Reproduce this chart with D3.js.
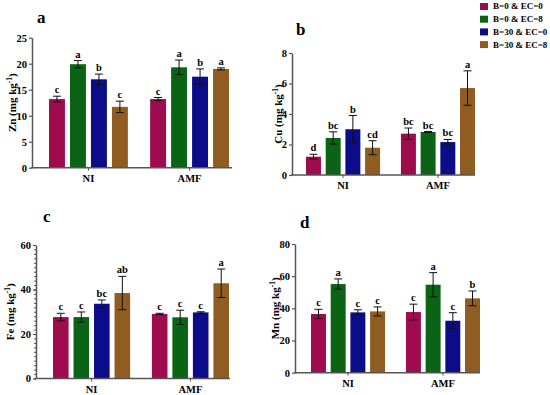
<!DOCTYPE html>
<html>
<head>
<meta charset="utf-8">
<script src="https://cdn.jsdelivr.net/npm/d3@7"></script>
<style>
  body { margin: 0; background: #fff; }
  text { font-family: "Liberation Serif", "Times New Roman", serif; font-weight: bold; }
</style>
</head>
<body>
<div id="chart-area"></div>
<script>
// data
const groups = ['NI', 'AMF'];
const treatments = ['B=0 & EC=0', 'B=0 & EC=8', 'B=30 & EC=0', 'B=30 & EC=8'];
const colors = ['#9f0c4e', '#0b6415', '#0c0c8a', '#8f5c21'];

// order: NI x4 treatments, then AMF x4
const znMean = [13.2, 19.9, 17.0, 11.7, 13.2, 19.3, 17.5, 19.0];
const znErr = [0.55, 0.7, 1.0, 1.1, 0.3, 1.4, 1.5, 0.2];
const znLetters = ['c', 'a', 'b', 'c', 'c', 'a', 'b', 'a'];

const cuMean = [1.2, 2.43, 3.0, 1.79, 2.71, 2.82, 2.16, 5.7];
const cuErr = [0.16, 0.4, 0.9, 0.46, 0.37, 0.03, 0.17, 1.13];
const cuLetters = ['d', 'bc', 'b', 'cd', 'bc', 'bc', 'bc', 'a'];

const feMean = [27.6, 27.6, 33.6, 38.4, 29.0, 27.5, 29.7, 42.8];
const feErr = [1.7, 2.3, 1.7, 7.5, 0.3, 3.2, 0.3, 6.4];
const feLetters = ['c', 'c', 'bc', 'ab', 'c', 'c', 'c', 'a'];

const mnMean = [36.5, 55.1, 37.5, 38.1, 37.7, 54.7, 32.3, 46.2];
const mnErr = [2.9, 3.2, 1.6, 2.8, 4.9, 7.5, 5.0, 4.6];
const mnLetters = ['c', 'a', 'c', 'c', 'c', 'a', 'c', 'b'];

const znTicks = [0, 5, 10, 15, 20, 25];
const cuTicks = [0, 2, 4, 6, 8];
const feTicks = [0, 20, 40, 60];
const mnTicks = [0, 20, 40, 60, 80];

const svg = d3.select('#chart-area')
    .append('svg')
    .attr('width', 550)
    .attr('height', 395);

// panel geometry
const panels = [
    {tag: 'a', el: 'Zn', mean: znMean, err: znErr, letters: znLetters, ticks: znTicks, minor: null,
     ax: 32, axEnd: 232, y0: 167.7, yTop: 37.7, bars: [49, 229], labX: 12, tagX: 37, tagY: 23},
    {tag: 'b', el: 'Cu', mean: cuMean, err: cuErr, letters: cuLetters, ticks: cuTicks, minor: null,
     ax: 292, axEnd: 475, y0: 175, yTop: 53, bars: [306, 475], labX: 278, tagX: 296, tagY: 35},
    {tag: 'c', el: 'Fe', mean: feMean, err: feErr, letters: feLetters, ticks: feTicks, minor: 2,
     ax: 36, axEnd: 230, y0: 378.5, yTop: 245, bars: [53, 229], labX: 10, tagX: 43, tagY: 222},
    {tag: 'd', el: 'Mn', mean: mnMean, err: mnErr, letters: mnLetters, ticks: mnTicks, minor: null,
     ax: 295, axEnd: 480, y0: 372.7, yTop: 244, bars: [311, 480], labX: 275, tagX: 300, tagY: 228}
];

const axisColor = '#555';

panels.forEach(p => {
    const g = svg.append('g');
    const yMax = p.ticks[p.ticks.length - 1];

    const yScale = d3.scaleLinear()
        .domain([0, yMax])
        .range([p.y0, p.yTop]);

    const xGroup = d3.scaleBand()
        .domain(groups)
        .range(p.bars)
        .paddingInner(0.22);

    const xInner = d3.scaleBand()
        .domain(treatments)
        .range([0, xGroup.bandwidth()])
        .paddingInner(0.24);

    const rows = p.mean.map((m, i) => ({
        group: groups[Math.floor(i / 4)],
        trt: treatments[i % 4],
        color: colors[i % 4],
        mean: m,
        err: p.err[i],
        letter: p.letters[i]
    }));

    // minor ticks (panel c only)
    if (p.minor) {
        const minorAxis = d3.axisLeft(yScale)
            .tickValues(d3.range(0, yMax + 0.001, p.minor))
            .tickSize(2)
            .tickFormat('');
        const mg = g.append('g')
            .attr('transform', 'translate(' + p.ax + ', 0)')
            .call(minorAxis);
        mg.select('.domain').remove();
        mg.selectAll('line').attr('stroke', axisColor);
    }

    const yAxis = g.append('g')
        .attr('transform', 'translate(' + p.ax + ', 0)')
        .call(d3.axisLeft(yScale).tickValues(p.ticks).tickSize(3).tickSizeOuter(0).tickPadding(2));
    yAxis.select('.domain').attr('stroke', axisColor).attr('stroke-width', 1.5);
    yAxis.selectAll('line').attr('stroke', axisColor).attr('stroke-width', 1.2);
    yAxis.selectAll('text')
        .attr('font-size', '10.5px')
        .attr('font-family', '"Liberation Serif", serif')
        .attr('font-weight', 'bold')
        .attr('fill', '#000');

    // bars
    g.selectAll('rect.bar')
        .data(rows)
        .enter()
        .append('rect')
        .attr('class', 'bar')
        .attr('x', d => xGroup(d.group) + xInner(d.trt))
        .attr('y', d => yScale(d.mean))
        .attr('width', xInner.bandwidth())
        .attr('height', d => p.y0 - yScale(d.mean))
        .attr('fill', d => d.color);

    // error bars
    const capW = 4;
    const eb = g.selectAll('g.err')
        .data(rows)
        .enter()
        .append('g')
        .attr('class', 'err')
        .attr('stroke', '#111')
        .attr('stroke-width', 1);
    const cx = d => xGroup(d.group) + xInner(d.trt) + xInner.bandwidth() / 2;
    eb.append('line')
        .attr('x1', cx).attr('x2', cx)
        .attr('y1', d => yScale(d.mean - d.err))
        .attr('y2', d => yScale(d.mean + d.err));
    eb.append('line')
        .attr('x1', d => cx(d) - capW).attr('x2', d => cx(d) + capW)
        .attr('y1', d => yScale(d.mean + d.err))
        .attr('y2', d => yScale(d.mean + d.err));
    eb.append('line')
        .attr('x1', d => cx(d) - capW).attr('x2', d => cx(d) + capW)
        .attr('y1', d => yScale(d.mean - d.err))
        .attr('y2', d => yScale(d.mean - d.err));

    // significance letters
    g.selectAll('text.sig')
        .data(rows)
        .enter()
        .append('text')
        .attr('class', 'sig')
        .attr('x', cx)
        .attr('y', d => yScale(d.mean + d.err) - 3)
        .attr('text-anchor', 'middle')
        .attr('font-size', '10.5px')
        .text(d => d.letter);

    // x axis
    g.append('line')
        .attr('x1', p.ax - 0.75).attr('x2', p.axEnd)
        .attr('y1', p.y0).attr('y2', p.y0)
        .attr('stroke', axisColor)
        .attr('stroke-width', 1.5);
    const xAxis = g.append('g')
        .attr('transform', 'translate(0, ' + p.y0 + ')')
        .call(d3.axisBottom(xGroup).tickSize(3).tickSizeOuter(0).tickPadding(4));
    xAxis.select('.domain').remove();
    xAxis.selectAll('line').attr('stroke', axisColor).attr('stroke-width', 1);
    xAxis.selectAll('text')
        .attr('font-size', '10.5px')
        .attr('font-family', '"Liberation Serif", serif')
        .attr('font-weight', 'bold')
        .attr('fill', '#000');

    // y label
    const yl = g.append('text')
        .attr('transform', 'translate(' + p.labX + ', ' + ((p.y0 + p.yTop) / 2) + ') rotate(-90)')
        .attr('text-anchor', 'middle')
        .attr('dy', '0.35em')
        .attr('font-size', '11px');
    yl.append('tspan').text(p.el + ' (mg kg');
    yl.append('tspan').attr('font-size', '7.5px').attr('dy', '-4').text('-1');
    yl.append('tspan').attr('dy', '4').text(')');

    // panel tag
    g.append('text')
        .attr('x', p.tagX)
        .attr('y', p.tagY)
        .attr('font-size', '17px')
        .text(p.tag);
});

// legend
const legend = svg.append('g');
treatments.forEach((t, i) => {
    const y = 6.5 + i * 12.7;
    legend.append('rect')
        .attr('x', 480).attr('y', y - 3.5)
        .attr('width', 8).attr('height', 7)
        .attr('fill', colors[i]);
    legend.append('text')
        .attr('x', 493).attr('y', y)
        .attr('dy', '0.33em')
        .attr('font-size', '9px')
        .text(t);
});
</script>
</body>
</html>
